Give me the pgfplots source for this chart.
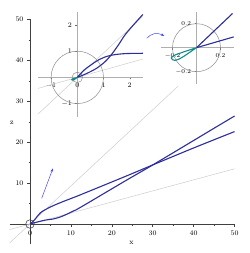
\documentclass[border=0pt]{standalone}
\usepackage{pgfplots}
\pgfplotsset{compat=1.18}
\usetikzlibrary{arrows.meta}
\definecolor{curveblue}{RGB}{45,45,155}
\definecolor{arrowblue}{RGB}{70,70,250}
\definecolor{loopteal}{RGB}{20,140,140}
\definecolor{asym}{RGB}{205,205,205}
\definecolor{insetaxis}{RGB}{175,175,175}
\definecolor{circgray}{RGB}{140,140,140}
\begin{document}
\begin{tikzpicture}
\path[use as bounding box] (0pt,0pt) rectangle (249pt,253pt);
% main axis
\begin{axis}[
  at={(9.55pt,8.5pt)}, anchor=south west,
  scale only axis, width=225pt, height=225pt,
  xmin=-5, xmax=50, ymin=-5, ymax=50,
  axis lines=middle, axis line style={-, black!75, line width=0.6pt},
  xtick={0,10,...,50}, ytick={10,20,...,50},
  minor xtick={5,15,...,45}, minor ytick={5,15,...,45},
  hide obscured x ticks=false, hide obscured y ticks=false,
  tick align=outside, major tick length=3pt, minor tick length=1.5pt,
  tick style={black!75, line width=0.5pt},
  ticklabel style={font=\fontsize{7}{8}\selectfont},
  xlabel={x}, ylabel={z},
  label style={font=\fontsize{7.5}{8}\selectfont},
  xlabel style={at={(axis description cs:0.542,0.007)}, anchor=center},
  ylabel style={at={(axis description cs:0.01,0.54)}, anchor=center, rotate=0},
  clip=false,
]
\addplot[asym, line width=0.5pt] coordinates {(-5,-4.65) (36.2,33.7)};
\addplot[asym, line width=0.5pt] coordinates {(-5,-1.35) (50,13.5)};
\addplot[curveblue, line width=1.1pt, smooth, tension=0.5] coordinates {
 (0,0) (1,0.9) (1.8,1.9) (2.6,2.8) (3.7,3.5) (5.7,4.5) (8.1,5.5) (12.2,7.1) (23.2,11.6) (30.6,14.7) (40,18.6) (50,22.6)};
\addplot[curveblue, line width=1.1pt, smooth, tension=0.5] coordinates {
 (0,0) (1,0.3) (2,0.55) (3.7,0.95) (5.7,1.25) (7.3,1.7) (9,2.4) (10.6,3.2) (12.2,4.0) (23.2,10.5) (30.6,14.8) (46.3,24.2) (50,26.4)};
\draw[black!70, line width=0.6pt] (axis cs:0,0) circle [radius=1.05];
\draw[arrowblue, line width=0.5pt, -{Stealth[length=3.5pt,width=2.5pt]}] (axis cs:2.86,6.3) -- (axis cs:5.6,13.6);
\end{axis}
% inset 1
\begin{axis}[
  at={(38pt,136.3pt)}, anchor=south west,
  scale only axis, width=104.8pt, height=104.8pt,
  xmin=-1.5, xmax=2.5, ymin=-1.5, ymax=2.5,
  axis lines=middle, axis line style={-, insetaxis, line width=1.2pt},
  xtick={-1,0,1,2}, ytick={-1,1,2},
  hide obscured x ticks=false, hide obscured y ticks=false,
  tick align=outside, major tick length=2pt,
  tick style={black!60, line width=0.4pt},
  ticklabel style={font=\fontsize{7}{8}\selectfont},
  clip=false,
]
\addplot[asym, line width=0.5pt] coordinates {(-1.5,-1.4) (2.5,2.33)};
\addplot[asym, line width=0.5pt] coordinates {(-1.5,-0.42) (2.5,0.7)};
\draw[circgray, line width=0.5pt] (axis cs:0,0) circle [radius=1];
\draw[circgray, line width=0.5pt] (axis cs:0,0) circle [radius=0.2];
\addplot[curveblue, line width=1.1pt, smooth, tension=0.5] coordinates {
 (0,0) (0.36,0.15) (0.74,0.35) (1.06,0.6) (1.31,0.88) (1.57,1.24) (1.82,1.62) (2.14,2.0) (2.5,2.4)};
\addplot[curveblue, line width=1.1pt, smooth, tension=0.5] coordinates {
 (0,0) (0.25,0.27) (0.5,0.46) (0.8,0.66) (1.12,0.8) (1.44,0.87) (1.88,0.91) (2.5,0.92)};
\addplot[loopteal, line width=1.1pt, smooth, tension=0.5] coordinates {
 (0,0) (-0.05,-0.016) (-0.1,-0.033) (-0.15,-0.05) (-0.19,-0.066) (-0.21,-0.085) (-0.2,-0.1) (-0.18,-0.106) (-0.14,-0.092) (-0.1,-0.068) (-0.05,-0.034) (0,0)};
\end{axis}
% inset 2
\begin{axis}[
  at={(160.5pt,169.3pt)}, anchor=south west,
  scale only axis, width=73.2pt, height=72pt,
  xmin=-0.3, xmax=0.31, ymin=-0.3, ymax=0.3,
  axis lines=middle, axis line style={-, insetaxis, line width=1.2pt},
  xtick={-0.2,0.2}, ytick={-0.2,0.2},
  hide obscured x ticks=false, hide obscured y ticks=false,
  tick align=outside, major tick length=2pt,
  tick style={black!60, line width=0.4pt},
  ticklabel style={font=\fontsize{6.5}{7}\selectfont},
  clip=false,
]
\draw[circgray, line width=0.5pt] (axis cs:0,0) circle [radius=0.2];
\addplot[curveblue, line width=1.1pt] coordinates {(0,0) (0.3,0.285)};
\addplot[curveblue, line width=1.1pt] coordinates {(0,0) (0.31,0.09)};
\addplot[loopteal, line width=1.1pt, smooth, tension=0.5] coordinates {
 (0,0) (-0.05,-0.016) (-0.1,-0.033) (-0.15,-0.05) (-0.19,-0.066) (-0.21,-0.085) (-0.2,-0.1) (-0.18,-0.106) (-0.14,-0.092) (-0.1,-0.068) (-0.05,-0.034) (0,0)};
\end{axis}
\draw[arrowblue, line width=0.5pt, -{Stealth[length=3.5pt,width=2.5pt]}] (146.7pt,214.7pt) .. controls (151pt,219.5pt) and (157pt,221pt) .. (164.3pt,217pt);
\end{tikzpicture}
\end{document}
